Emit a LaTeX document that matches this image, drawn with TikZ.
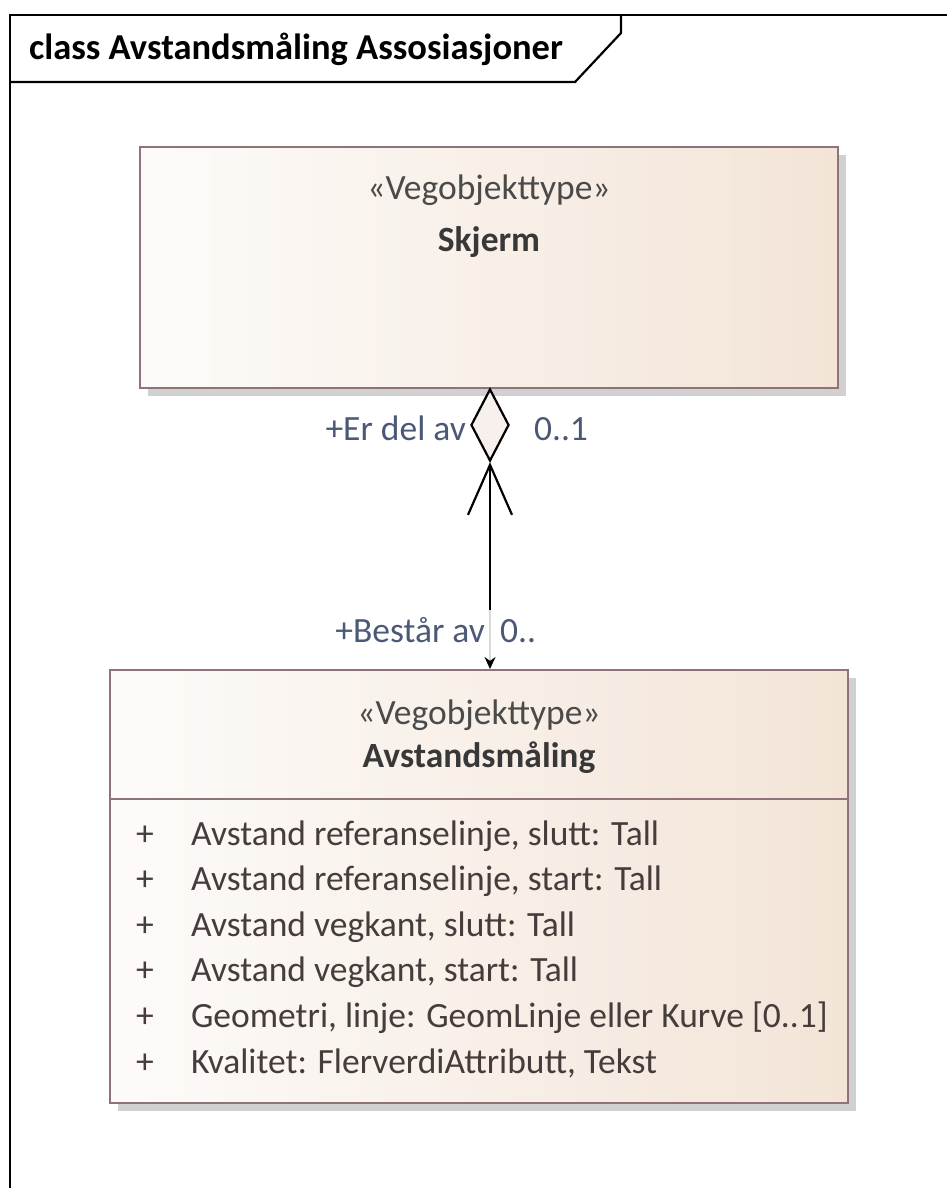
\documentclass[tikz,border=0pt]{standalone}
\usepackage{fontspec}
\setmainfont{Carlito}
\usepackage{tikz}
\usetikzlibrary{arrows.meta,shapes.geometric,positioning,shadows}
\definecolor{boxline}{HTML}{8E7479}
\definecolor{boxleft}{HTML}{FDFBF9}
\definecolor{boxright}{HTML}{F3E4D7}
\definecolor{diafill}{HTML}{F8F0EC}
\definecolor{stereotext}{HTML}{4A4A4A}
\definecolor{nametext}{HTML}{383838}
\definecolor{attrtext}{HTML}{463C3C}
\definecolor{roletext}{HTML}{4B5876}

\begin{document}
\begin{tikzpicture}[x=1pt,y=-1pt,line width=2.2pt,
	class box/.style={rectangle,draw=boxline,line width=2pt,left color=boxleft,right color=boxright,
		drop shadow={fill=black!18,opacity=1,shadow xshift=8pt,shadow yshift=-8pt},inner sep=0pt},
	stereo/.style={anchor=base,inner sep=0pt,text=stereotext,font=\fontsize{35.5}{42}\selectfont},
	class name/.style={anchor=base,inner sep=0pt,text=nametext,font=\fontsize{35.5}{42}\selectfont\bfseries},
	role/.style={inner sep=0pt,text=roletext,font=\fontsize{35.5}{42}\selectfont}]
	\useasboundingbox (0,0) rectangle (947,1188);
	
	\draw (10,1190) -- (10,15) -- (950,15);
	\draw (10,82) -- (575,82) -- (621,33) -- (621,15);
	\node[anchor=base west,inner sep=0pt,font=\fontsize{36.5}{42}\selectfont\bfseries] (title) at (28,60) {class Avstandsmåling Assosiasjoner};
	
	\node[class box, minimum width=698pt, minimum height=241pt] (skjerm) at (489,267.5) {};
	\node[stereo] (skjermtype) at ([yshift=-53pt]skjerm.north) {«Vegobjekttype»};
	\node[class name] (skjermname) at ([yshift=-105pt]skjerm.north) {Skjerm};
	
	\node[class box, minimum width=738pt, minimum height=433pt] (avst) at (479,886.5) {};
	\node[stereo] (avsttype) at ([yshift=-55pt]avst.north) {«Vegobjekttype»};
	\node[class name] (avstname) at ([yshift=-98pt]avst.north) {Avstandsmåling};
	\draw[boxline, line width=2pt] ([yshift=-130pt]avst.north west) -- ([yshift=-130pt]avst.north east);
	\node[anchor=base west,inner sep=0pt,text=attrtext,font=\fontsize{35.5}{45.6}\selectfont] (avstattr) at (135,845) {%
		\begin{tabular}[t]{@{}p{55pt}@{}l@{}}
			+ & Avstand referanselinje, slutt: Tall\\
			+ & Avstand referanselinje, start: Tall\\
			+ & Avstand vegkant, slutt: Tall\\
			+ & Avstand vegkant, start: Tall\\
			+ & Geometri, linje: GeomLinje eller Kurve [0..1]\\
			+ & Kvalitet: FlerverdiAttributt, Tekst
		\end{tabular}};
	
	\node[diamond, draw, fill=diafill, inner sep=0pt, minimum width=38pt, minimum height=72pt] (agg) at (490,425) {};
	\coordinate (brk) at ([yshift=-148pt]agg.south);
	\draw[-{Straight Barb[length=50pt,width=44pt,line width=2.2pt]}] (brk) -- (agg.south);
	\draw[gray!30, line width=1.5pt, -{Stealth[color=black,length=12pt,width=11pt]}] (brk) -- (brk |- avst.north);
	
	\node[role, anchor=base east] (erdelav) at (467,440) {+Er del av};
	\node[role, anchor=base west] (mult1) at (533,440) {0..1};
	\node[role, anchor=base east] (bestar) at (486,642) {+Består av};
	\node[role, anchor=base west] (mult2) at (499,642) {0..};
\end{tikzpicture}
\end{document}
